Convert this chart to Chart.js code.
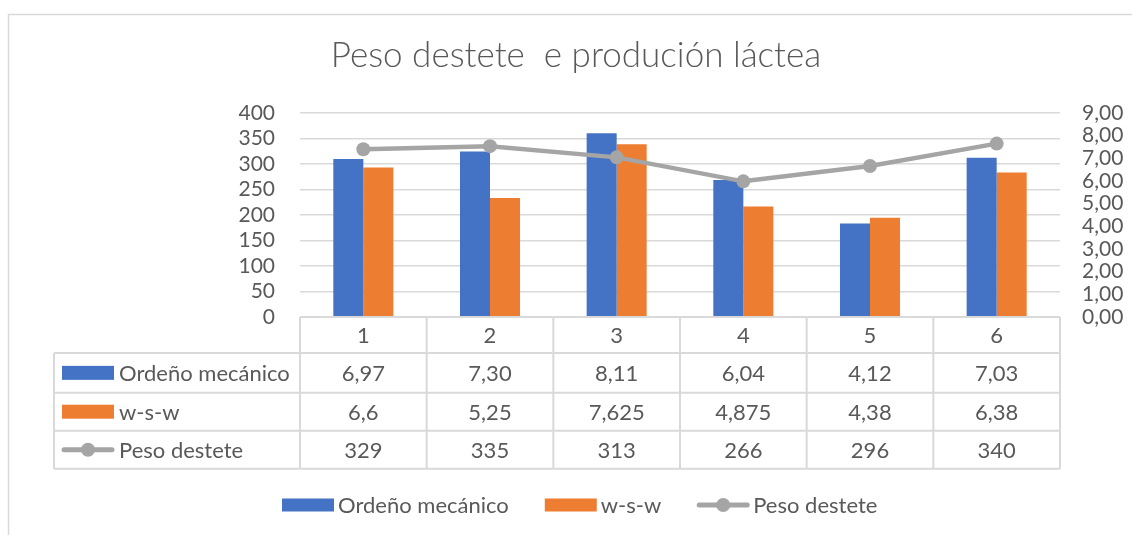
<!DOCTYPE html>
<html><head><meta charset="utf-8">
<script src="https://cdn.jsdelivr.net/npm/chart.js@4.4.1/dist/chart.umd.min.js"></script>
<style>html,body{margin:0;padding:0;background:#fff}</style>
</head><body>
<canvas id="c" width="1132" height="535" style="width:1132px;height:535px;display:block"></canvas>
<script>
const chartTitle = 'Peso destete  e produción láctea';
const categories = ['1', '2', '3', '4', '5', '6'];
const seriesNames = ['Ordeño mecánico', 'w-s-w', 'Peso destete'];
const ordenoMecanico = [6.97, 7.30, 8.11, 6.04, 4.12, 7.03];
const wsw = [6.6, 5.25, 7.625, 4.875, 4.38, 6.38];
const pesoDestete = [329, 335, 313, 266, 296, 340];
const leftAxis = { min: 0, max: 400, step: 50 };
const rightAxis = { min: 0, max: 9, step: 1 };

const TXT = '#595959', GRID = '#d9d9d9';
const BLUE = '#4472c4', ORANGE = '#ed7d31', GRAY = '#a5a5a5';
const FONT = 'Lato, "Open Sans", sans-serif';
const fmtComma = v => String(v).replace('.', ',');
const tableFormats = [v => v.toFixed(2).replace('.', ','), fmtComma, fmtComma];

function drawKey(ctx, i, x, y, w, h) {
  if (i < 2) {
    ctx.fillStyle = i === 0 ? BLUE : ORANGE;
    ctx.fillRect(x, y - h / 2, w, h);
  } else {
    ctx.strokeStyle = GRAY; ctx.lineWidth = 5; ctx.lineCap = 'round';
    ctx.beginPath(); ctx.moveTo(x + 2, y); ctx.lineTo(x + w - 2, y); ctx.stroke();
    ctx.fillStyle = GRAY; ctx.beginPath(); ctx.arc(x + w / 2, y, 7, 0, Math.PI * 2); ctx.fill();
    ctx.lineCap = 'butt';
  }
}

const extras = {
  id: 'extras',
  afterDraw(chart) {
    const ctx = chart.ctx, ca = chart.chartArea;
    ctx.save();
    // outer border
    ctx.strokeStyle = GRID; ctx.lineWidth = 1.5;
    ctx.beginPath(); ctx.moveTo(8.5, 540); ctx.lineTo(8.5, 14.5); ctx.lineTo(1140, 14.5); ctx.stroke();
    // title
    ctx.fillStyle = TXT; ctx.font = '300 35px ' + FONT;
    ctx.textAlign = 'center'; ctx.textBaseline = 'middle';
    ctx.fillText(chartTitle, 576, 56);
    // data table
    const rows = [ca.bottom, 353, 392.7, 430.7, 468.7];
    const colW = (ca.right - ca.left) / categories.length;
    const tLeft = 54;
    ctx.strokeStyle = GRID; ctx.lineWidth = 2;
    ctx.beginPath();
    for (let i = 0; i <= categories.length; i++) {
      const x = ca.left + i * colW;
      ctx.moveTo(x, rows[0]); ctx.lineTo(x, rows[4]);
    }
    ctx.moveTo(tLeft, rows[1]); ctx.lineTo(tLeft, rows[4]);
    ctx.moveTo(ca.left, rows[0]); ctx.lineTo(ca.right, rows[0]);
    for (let r = 1; r < rows.length; r++) { ctx.moveTo(tLeft, rows[r]); ctx.lineTo(ca.right, rows[r]); }
    ctx.stroke();
    ctx.font = '22px ' + FONT; ctx.fillStyle = TXT;
    ctx.textAlign = 'center'; ctx.textBaseline = 'middle';
    categories.forEach((c, i) => ctx.fillText(c, ca.left + (i + 0.5) * colW, (rows[0] + rows[1]) / 2 + 1));
    const data = [ordenoMecanico, wsw, pesoDestete];
    data.forEach((arr, r) => {
      const yc = (rows[r + 1] + rows[r + 2]) / 2 + 1;
      arr.forEach((v, i) => {
        ctx.fillStyle = TXT; ctx.textAlign = 'center';
        ctx.fillText(tableFormats[r](v), ca.left + (i + 0.5) * colW, yc);
      });
      drawKey(ctx, r, 62, yc - 1, 52, 14);
      ctx.fillStyle = TXT; ctx.textAlign = 'left';
      ctx.fillText(seriesNames[r], 119, yc);
    });
    // bottom legend
    ctx.font = '22px ' + FONT; ctx.textAlign = 'left';
    let x = 282; const ly = 505;
    seriesNames.forEach((n, i) => {
      drawKey(ctx, i, x, ly, 52, 13);
      ctx.fillStyle = TXT;
      ctx.fillText(n, x + 56, ly + 1);
      x += 56 + ctx.measureText(n).width + 36;
    });
    ctx.restore();
  }
};

new Chart(document.getElementById('c'), {
  data: {
    labels: categories,
    datasets: [
      { type: 'line', label: seriesNames[2], data: pesoDestete, yAxisID: 'yL', order: 0,
        borderColor: GRAY, backgroundColor: GRAY, borderWidth: 4.5,
        pointRadius: 7, pointBorderWidth: 0, pointBackgroundColor: GRAY },
      { type: 'bar', label: seriesNames[0], data: ordenoMecanico, yAxisID: 'yR', order: 1,
        backgroundColor: BLUE, categoryPercentage: 0.474, barPercentage: 1 },
      { type: 'bar', label: seriesNames[1], data: wsw, yAxisID: 'yR', order: 2,
        backgroundColor: ORANGE, categoryPercentage: 0.474, barPercentage: 1 }
    ]
  },
  options: {
    responsive: false, animation: false, devicePixelRatio: 1,
    layout: { padding: { top: 113, bottom: 218, left: 0, right: 0 } },
    plugins: { legend: { display: false }, title: { display: false }, tooltip: { enabled: false } },
    scales: {
      x: { type: 'category', display: false, offset: true },
      yL: {
        position: 'left', min: leftAxis.min, max: leftAxis.max,
        ticks: { stepSize: leftAxis.step, autoSkip: false, color: TXT, font: { family: FONT, size: 21 }, padding: 25 },
        grid: { color: GRID, lineWidth: 1.5, drawTicks: false },
        border: { display: false },
        afterFit(s) { s.width = 300; }
      },
      yR: {
        position: 'right', min: rightAxis.min, max: rightAxis.max,
        ticks: { stepSize: rightAxis.step, autoSkip: false, color: TXT, font: { family: FONT, size: 21 }, padding: 22,
          callback: v => v.toFixed(2).replace('.', ',') },
        grid: { display: false, drawTicks: false },
        border: { display: false },
        afterFit(s) { s.width = 72; }
      }
    }
  },
  plugins: [extras]
});
</script>
</body></html>
